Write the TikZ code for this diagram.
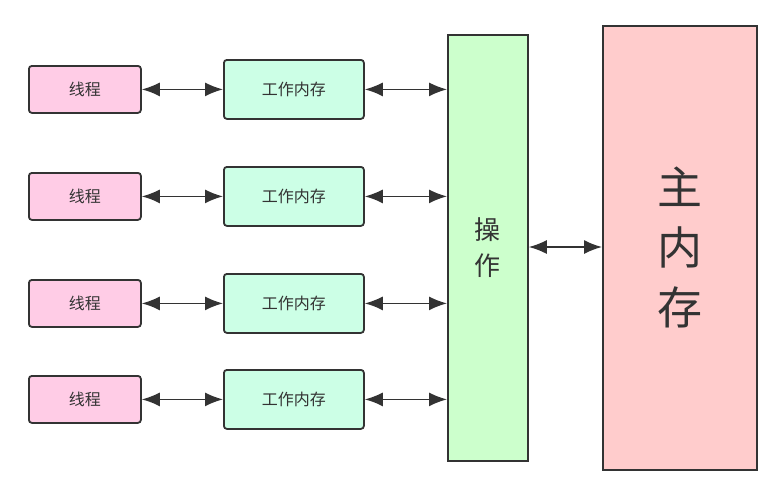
\documentclass[tikz,border=0pt]{standalone}
\usepackage{fontspec}
\newfontfamily\cjk{Noto Sans CJK SC}
\usetikzlibrary{arrows.meta}
\definecolor{linec}{HTML}{333333}
\definecolor{thrc}{HTML}{FFCCE6}
\definecolor{workc}{HTML}{CCFFE6}
\definecolor{opc}{HTML}{CCFFCC}
\definecolor{mainc}{HTML}{FFCCCC}
\begin{document}
\begin{tikzpicture}[x=1pt,y=-1pt,
  box/.style={draw=linec,line width=1.8pt,text=linec,font=\cjk,inner sep=0pt,anchor=north west},
  thr/.style={box,fill=thrc,rounded corners=3pt,minimum width=112pt,minimum height=47pt,font=\cjk\fontsize{16}{18}\selectfont},
  work/.style={box,fill=workc,rounded corners=3pt,minimum width=140pt,minimum height=59pt,font=\cjk\fontsize{16}{18}\selectfont},
  conn/.style={draw=linec,line width=1.5pt,{Latex[length=18pt,width=14pt]}-{Latex[length=18pt,width=14pt]}}
]
\useasboundingbox (0,0) rectangle (784,499);
\node[thr] (t1) at (28,65) {线程};
\node[thr] (t2) at (28,172) {线程};
\node[thr] (t3) at (28,279) {线程};
\node[thr] (t4) at (28,375) {线程};
\node[work] (w1) at (223,59) {工作内存};
\node[work] (w2) at (223,166) {工作内存};
\node[work] (w3) at (223,273) {工作内存};
\node[work] (w4) at (223,369) {工作内存};
\node[box,fill=opc,minimum width=80pt,minimum height=426pt,align=center,font=\cjk\fontsize{26}{36}\selectfont] (op) at (447,34) {操\\作};
\node[box,fill=mainc,minimum width=154pt,minimum height=444pt,align=center,font=\cjk\fontsize{45}{60}\selectfont] (mm) at (602,25) {主\\内\\存};
\foreach \i in {1,2,3,4}{
  \draw[conn] (t\i.east) -- (w\i.west);
  \draw[conn] (w\i.east) -- (w\i.east -| op.west);
}
\draw[conn] (op.east |- 0,247) -- (mm.west |- 0,247);
\end{tikzpicture}
\end{document}
